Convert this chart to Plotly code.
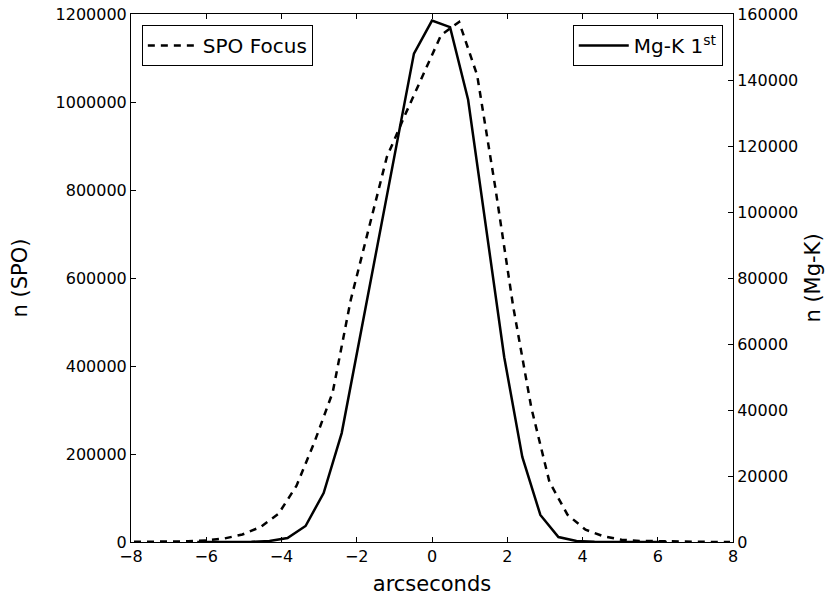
import plotly.graph_objects as go

# SPO focus profile (left axis), sampled every 0.48 arcsec
spo_x = [-7.92, -7.44, -6.96, -6.48, -6.00, -5.52, -5.04, -4.56, -4.08, -3.60,
         -3.12, -2.64, -2.16, -1.68, -1.20, -0.72, -0.24, 0.24, 0.72, 1.20,
         1.68, 2.16, 2.64, 3.12, 3.60, 4.08, 4.56, 5.04, 5.52, 6.00,
         6.48, 6.96, 7.44, 7.92]
spo_n = [300, 500, 800, 1500, 3500, 8000, 17000, 34000, 64000, 128000,
         228000, 340000, 550000, 711000, 875000, 970000, 1061000, 1152000, 1182000, 1061000,
         807000, 534000, 305000, 137000, 62000, 28000, 13000, 5000, 2500, 1500,
         800, 400, 200, 100]

# Mg-K 1st order profile (right axis)
mgk_x = [-6.24, -5.76, -5.28, -4.80, -4.32, -3.84, -3.36, -2.88, -2.40, -1.92,
         -1.44, -0.96, -0.48, 0.00, 0.48, 0.96, 1.44, 1.92, 2.40, 2.88,
         3.36, 3.84, 4.32, 4.80, 5.28, 5.76, 6.24]
mgk_n = [0, 5, 20, 80, 300, 1200, 4850, 14850, 33000, 61800,
         90300, 119000, 148000, 158000, 156000, 134000, 95000, 56000, 25800, 8200,
         1500, 300, 60, 15, 5, 0, 0]

FONT = "DejaVu Sans"

fig = go.Figure()
fig.add_trace(go.Scatter(x=spo_x, y=spo_n, mode="lines", name="SPO Focus",
                         line=dict(color="black", width=2.5, dash="7px,6px"),
                         legend="legend"))
fig.add_trace(go.Scatter(x=mgk_x, y=mgk_n, mode="lines", name="Mg-K 1<sup>st</sup>",
                         line=dict(color="black", width=2.5),
                         yaxis="y2", legend="legend2"))

axis_common = dict(showline=True, linecolor="black", linewidth=1, ticks="inside",
                   ticklen=5, tickcolor="black", showgrid=False, zeroline=False,
                   automargin=False, ticklabeloverflow="allow",
                   tickfont=dict(family=FONT, size=16, color="black"))

# the page body adds an 8px offset, so the figure is drawn 8px smaller
fig.update_layout(
    width=827, height=590,
    margin=dict(l=123, r=102, t=6, b=56),
    paper_bgcolor="white", plot_bgcolor="white",
    font=dict(family=FONT, color="black"),
    xaxis=dict(range=[-8, 8], dtick=2, mirror="ticks",
               title=dict(text="arcseconds", font=dict(family=FONT, size=21), standoff=11),
               **axis_common),
    yaxis=dict(range=[0, 1200000], dtick=200000, tickformat="d", mirror=True,
               title=dict(text="n (SPO)", font=dict(family=FONT, size=21), standoff=26),
               **axis_common),
    yaxis2=dict(range=[0, 160000], dtick=20000, tickformat="d", overlaying="y", side="right",
                title=dict(text="n (Mg-K)", font=dict(family=FONT, size=21), standoff=8),
                **axis_common),
    legend=dict(x=0.018, y=0.979, xanchor="left", yanchor="top",
                bordercolor="black", borderwidth=1, bgcolor="white", itemwidth=50,
                font=dict(family=FONT, size=20)),
    legend2=dict(x=0.983, y=0.979, xanchor="right", yanchor="top",
                 bordercolor="black", borderwidth=1, bgcolor="white", itemwidth=50,
                 font=dict(family=FONT, size=20)),
    showlegend=True,
)

fig.write_html("out.html")
